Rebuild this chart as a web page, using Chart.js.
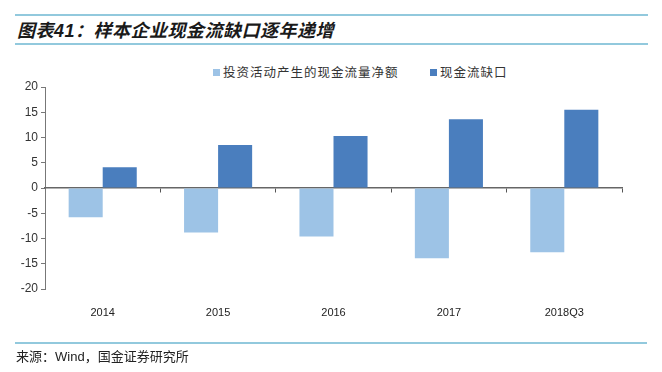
<!DOCTYPE html>
<html>
<head>
<meta charset="utf-8">
<script src="https://cdn.jsdelivr.net/npm/chart.js@4/dist/chart.umd.min.js"></script>
<style>
  body { margin: 0; background: #fff; width: 662px; height: 372px; position: relative; overflow: hidden;
         font-family: "Noto Sans CJK SC", "Liberation Sans", sans-serif; }
  #title { position: absolute; left: 15px; top: 14px; width: 631px; height: 27px;
           border-top: 2px solid #92c9dd; border-bottom: 2px solid #92c9dd;
           font-size: 18px; font-weight: bold; font-style: italic; color: #1a1a1a; line-height: 26px;
           letter-spacing: 0.5px; padding-left: 2px; box-sizing: content-box; }
  #title .num { font-family: "Liberation Sans", Arial, sans-serif; }
  #footer { position: absolute; left: 15px; top: 342px; width: 631px; border-top: 2px solid #92c9dd;
            font-size: 13px; color: #222; line-height: 24px; padding-left: 1px; }
  #footer .lat { font-family: "Liberation Sans", Arial, sans-serif; }
  #legend { position: absolute; top: 63px; left: 0; width: 662px; height: 18px; font-size: 12.5px; color: #333; letter-spacing: 1px; }
  #legend .item { position: absolute; top: 0; line-height: 18px; }
  #legend .sw { display: inline-block; width: 7px; height: 7px; margin-right: 3px; vertical-align: 1px; }
  #wrap { position: absolute; left: 0; top: 0; width: 662px; height: 372px; }
</style>
</head>
<body>
<div id="title">图表<span class="num">41</span>：样本企业现金流缺口逐年递增</div>
<div id="legend"></div>
<div id="wrap"><canvas id="c"></canvas></div>
<div id="footer">来源：<span class="lat">Wind</span>，国金证券研究所</div>
<script>
const categories = ['2014', '2015', '2016', '2017', '2018Q3'];
const investNet = [-5.8, -8.8, -9.6, -13.9, -12.7];
const cashGap = [4.1, 8.5, 10.3, 13.6, 15.5];
const seriesNames = ['投资活动产生的现金流量净额', '现金流缺口'];
const seriesColors = ['#9dc3e6', '#4a7ebe'];
const yTicks = [-20, -15, -10, -5, 0, 5, 10, 15, 20];

// legend drawn in html, positions
const legendX = [213, 430];
const legend = document.getElementById('legend');
seriesNames.forEach((name, i) => {
  const el = document.createElement('span');
  el.className = 'item';
  el.style.left = legendX[i] + 'px';
  el.innerHTML = '<span class="sw" style="background:' + seriesColors[i] + '"></span>' + name;
  legend.appendChild(el);
});

const ctx = document.getElementById('c').getContext('2d');
new Chart(ctx, {
  type: 'bar',
  data: {
    labels: categories,
    datasets: [
      { label: seriesNames[0], data: investNet, backgroundColor: seriesColors[0],
        categoryPercentage: 0.59, barPercentage: 1 },
      { label: seriesNames[1], data: cashGap, backgroundColor: seriesColors[1],
        categoryPercentage: 0.59, barPercentage: 1 }
    ]
  },
  options: {
    responsive: true,
    maintainAspectRatio: false,
    animation: false,
    layout: { padding: { top: 87, right: 40, bottom: 53, left: 0 } },
    plugins: { legend: { display: false }, tooltip: { enabled: false } },
    scales: {
      y: {
        min: -20, max: 20,
        afterBuildTicks: s => { s.ticks = yTicks.map(v => ({ value: v })); },
        afterFit: s => { s.width = 45; },
        grid: { drawOnChartArea: false, tickLength: 4, color: '#777', tickColor: '#777' },
        border: { display: true, color: '#777', width: 1 },
        ticks: { color: '#333', padding: 3, font: { family: 'Liberation Sans', size: 12 } }
      },
      x: {
        position: { y: 0 },
        offset: true,
        grid: { display: true, drawOnChartArea: false, offset: true, tickLength: 4, color: '#555', tickColor: '#555' },
        border: { display: true, color: '#666', width: 1.5 },
        ticks: { display: false }
      },
      xLabels: {
        type: 'category',
        position: 'bottom',
        labels: categories,
        offset: true,
        afterFit: s => { s.height = 30; },
        grid: { display: false },
        border: { display: false },
        ticks: { color: '#222', padding: 9, font: { family: 'Liberation Sans', size: 11 }, maxRotation: 0 }
      }
    }
  }
});
</script>
</body>
</html>
